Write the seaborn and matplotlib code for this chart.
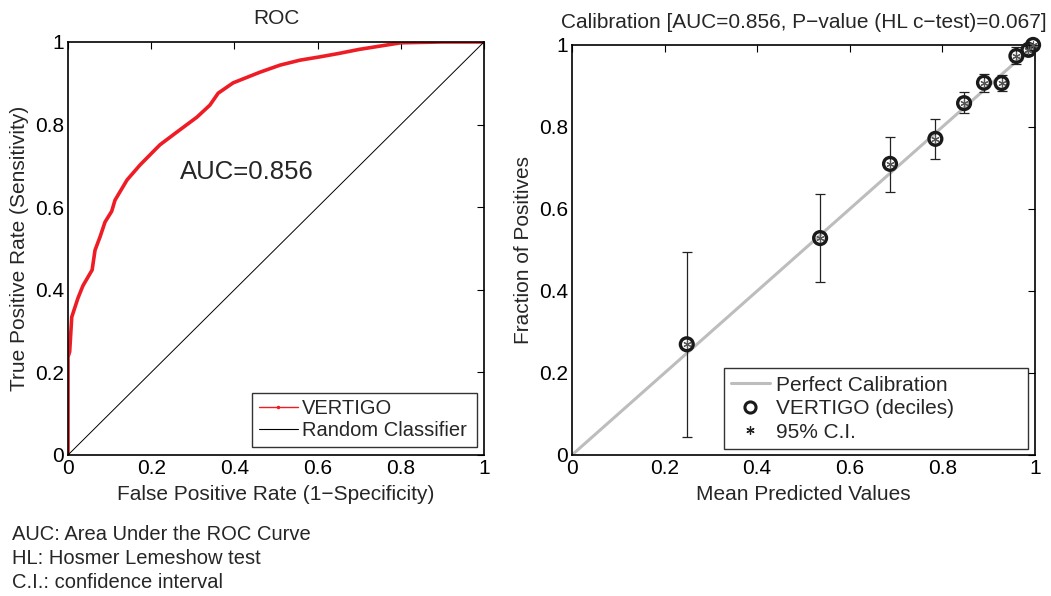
import numpy as np
import pandas as pd
import matplotlib
matplotlib.use("Agg")
import matplotlib.pyplot as plt
import seaborn as sns
from matplotlib.lines import Line2D

# ROC curve
fpr = [0, 0, 0.004, 0.009, 0.024, 0.036, 0.058, 0.065, 0.077, 0.089, 0.105, 0.113,
       0.142, 0.173, 0.221, 0.262, 0.310, 0.341, 0.361, 0.397, 0.462, 0.510,
       0.558, 0.606, 0.65, 0.70, 0.75, 0.80, 0.9, 1.0]
tpr = [0, 0.237, 0.25, 0.334, 0.38, 0.41, 0.448, 0.496, 0.528, 0.564, 0.590, 0.617,
       0.666, 0.702, 0.751, 0.782, 0.818, 0.847, 0.876, 0.901, 0.927, 0.944,
       0.956, 0.964, 0.972, 0.982, 0.990, 0.998, 1.0, 1.0]

# calibration deciles
mean_pred = [0.248, 0.536, 0.687, 0.785, 0.847, 0.890, 0.928, 0.960, 0.986, 0.996]
frac_pos = [0.270, 0.529, 0.710, 0.771, 0.858, 0.908, 0.907, 0.973, 0.988, 1.0]
ci_low = [0.045, 0.421, 0.642, 0.723, 0.833, 0.885, 0.888, 0.954, 0.978, 0.995]
ci_high = [0.494, 0.637, 0.776, 0.819, 0.885, 0.929, 0.926, 0.994, 0.997, 1.0]

ticks = [0, 0.2, 0.4, 0.6, 0.8, 1]
tick_labels = ["0", "0.2", "0.4", "0.6", "0.8", "1"]

notes = ["AUC: Area Under the ROC Curve",
         "HL: Hosmer Lemeshow test",
         "C.I.: confidence interval"]

sns.set_style("white")
plt.rcParams['font.family'] = ['Liberation Sans', 'DejaVu Sans']
plt.rcParams['font.size'] = 15

fig = plt.figure(figsize=(10.51, 5.96), dpi=100)
ax1 = fig.add_axes([0.0647, 0.2366, 0.3958, 0.693])
ax2 = fig.add_axes([0.5442, 0.2366, 0.4405, 0.688])

FS = 15
asterisk = (6, 2, 0)


def style_axis(ax):
    ax.set_xlim(0, 1)
    ax.set_ylim(0, 1)
    ax.set_xticks(ticks)
    ax.set_xticklabels(tick_labels)
    ax.set_yticks(ticks)
    ax.set_yticklabels(tick_labels)
    ax.tick_params(direction='in', length=5, width=0.8, top=True, right=True,
                   labelsize=FS, pad=3, colors='black')
    for s in ax.spines.values():
        s.set_visible(True)
        s.set_color('black')
        s.set_linewidth(1.2)


# ROC
roc = pd.DataFrame({'fpr': fpr, 'tpr': tpr})
sns.lineplot(data=roc, x='fpr', y='tpr', estimator=None, sort=False,
             color='#ee1c24', linewidth=2.6, ax=ax1)
ax1.plot([0, 1], [0, 1], color='black', linewidth=0.7)
style_axis(ax1)
ax1.set_title("ROC", fontsize=FS, pad=13)
ax1.set_xlabel("False Positive Rate (1\u2212Specificity)", fontsize=FS, labelpad=5)
ax1.set_ylabel("True Positive Rate (Sensitivity)", fontsize=FS, labelpad=4)
ax1.text(0.27, 0.685, "AUC=0.856", fontsize=18.5, va='center', ha='left')
h1 = [Line2D([], [], color='#ee1c24', linewidth=1, marker='.', markersize=3),
      Line2D([], [], color='black', linewidth=0.8)]
leg1 = ax1.legend(h1, ["VERTIGO", "Random Classifier"], loc='lower left',
                  bbox_to_anchor=(0.442, 0.019, 0.541, 0.12), mode='expand',
                  fontsize=14.5, frameon=True, fancybox=False, edgecolor='black',
                  borderpad=0.33, labelspacing=0.15, handlelength=1.95,
                  handletextpad=0.2, borderaxespad=0.0)
leg1.get_frame().set_linewidth(1.0)

# Calibration
cal = pd.DataFrame({'pred': mean_pred, 'obs': frac_pos})
ax2.plot([0, 1], [0, 1], color='#bdbdbd', linewidth=2.2, zorder=1)
yerr = [np.array(frac_pos) - np.array(ci_low), np.array(ci_high) - np.array(frac_pos)]
ax2.errorbar(mean_pred, frac_pos, yerr=yerr, fmt='none', ecolor='#222222',
             elinewidth=0.9, capsize=3.5, capthick=0.9, zorder=2, clip_on=False)
sns.scatterplot(data=cal, x='pred', y='obs', marker='o', s=85,
                facecolor='none', edgecolor='#1a1a1a', linewidth=2.4,
                ax=ax2, zorder=3, clip_on=False)
sns.scatterplot(data=cal, x='pred', y='obs', marker=asterisk, s=28,
                color='#555555', linewidth=0.8, edgecolor='#555555',
                ax=ax2, zorder=4, clip_on=False)
style_axis(ax2)
ax2.set_title("Calibration [AUC=0.856, P\u2212value (HL c\u2212test)=0.067]",
              fontsize=FS, pad=12)
ax2.set_xlabel("Mean Predicted Values", fontsize=FS, labelpad=5)
ax2.set_ylabel("Fraction of Positives", fontsize=FS, labelpad=4)
h2 = [Line2D([], [], color='#bdbdbd', linewidth=2.2),
      Line2D([], [], linestyle='none', marker='o', markersize=8,
             markerfacecolor='none', markeredgecolor='#1a1a1a', markeredgewidth=2.2),
      Line2D([], [], linestyle='none', marker=asterisk, markersize=6,
             color='#222222', markeredgewidth=0.9)]
leg2 = ax2.legend(h2, ["Perfect Calibration", "VERTIGO (deciles)", "95% C.I."],
                  loc='lower left', bbox_to_anchor=(0.328, 0.0146, 0.657, 0.19),
                  mode='expand', fontsize=FS, frameon=True, fancybox=False,
                  edgecolor='black', borderpad=0.35, labelspacing=0.22,
                  handlelength=1.85, handletextpad=0.3, borderaxespad=0.0)
leg2.get_frame().set_linewidth(1.0)

# footnotes
for i, line in enumerate(notes):
    fig.text(12 / 1051, 1 - (535 + 24 * i) / 596, line, fontsize=14.5,
             ha='left', va='center')

fig.savefig("out.png", dpi=100)
